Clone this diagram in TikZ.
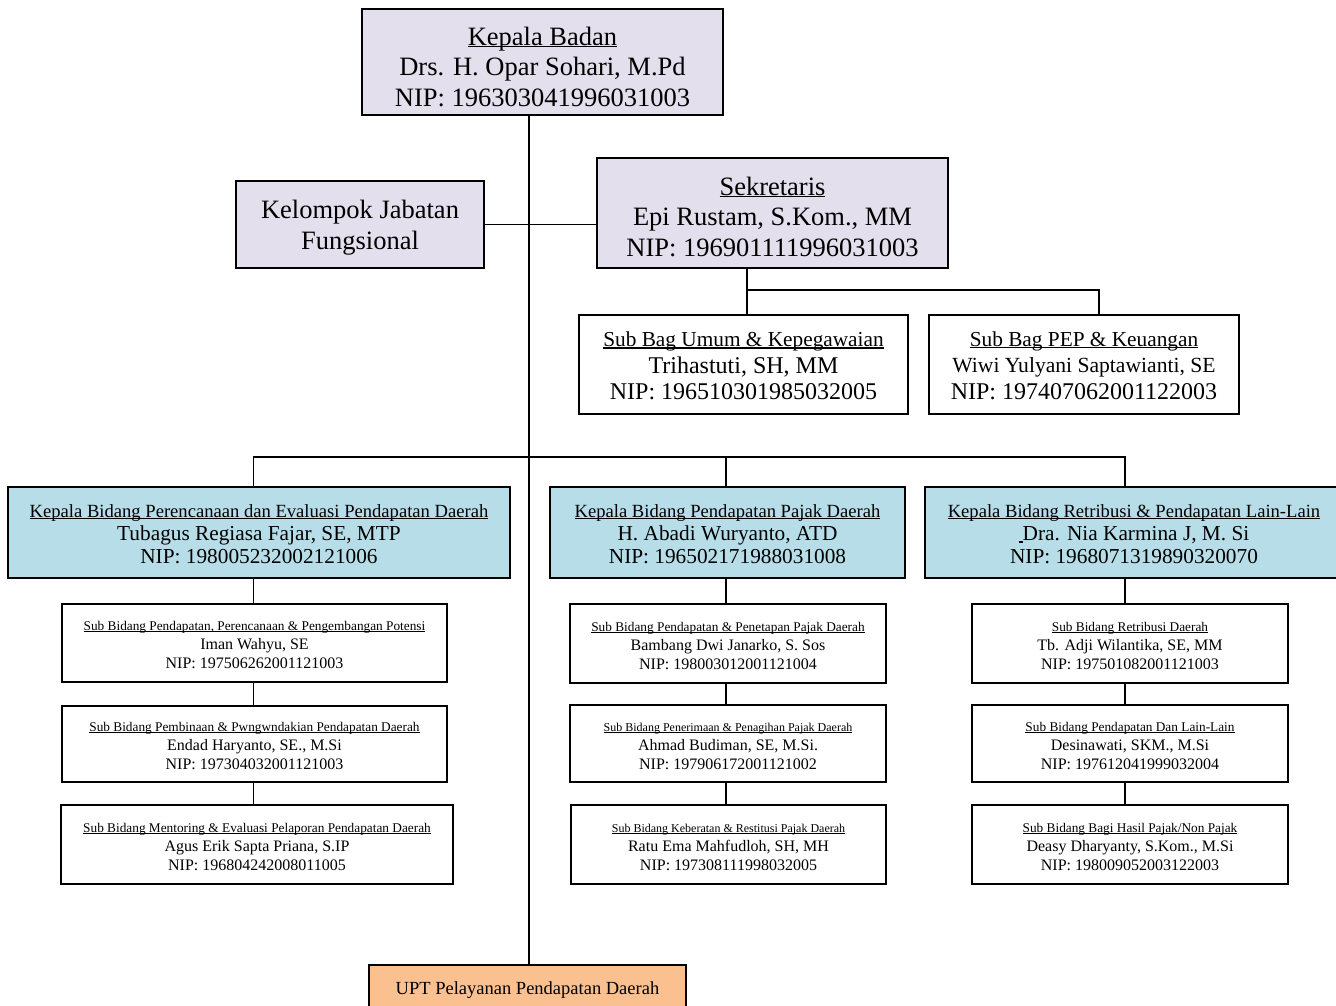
\documentclass[tikz,border=0pt]{standalone}
\usepackage{fontspec}
\setmainfont{Liberation Serif}
\usepackage{xcolor}
\definecolor{lavbox}{HTML}{E4DFEC}
\definecolor{bluebox}{HTML}{B7DEE8}
\definecolor{peachbox}{HTML}{FAC090}
% underline close to the baseline
\newcommand{\undl}[1]{\setbox0\hbox{#1}\rlap{\rule[-0.08em]{\wd0}{0.05em}}\box0}
% extra room above the first line
\newcommand{\toppad}[1]{\rule{0pt}{#1}}

\begin{document}
\begin{tikzpicture}[x=1pt,y=-1pt,
  box/.style={draw,line width=1.8pt,inner sep=0pt,align=center},
  topbox/.style={box,fill=lavbox,font=\fontsize{26.5}{30.5}\selectfont},
  bagbox/.style={box,font=\fontsize{24}{26.5}\selectfont},
  kabid/.style={box,fill=bluebox,font=\fontsize{21.3}{23}\selectfont,minimum height=91pt},
  subbid/.style={box,font=\fontsize{16}{19}\selectfont},
  link/.style={line width=1.8pt}]
  \useasboundingbox (0,0) rectangle (1336,1006);
  \clip (0,0) rectangle (1336,1006);

  % pimpinan dan sekretariat
  \node[topbox,minimum width=361pt,minimum height=106pt] (kaban) at (542.5,62)
    {\toppad{28pt}\undl{Kepala Badan}\\Drs. H. Opar Sohari, M.Pd\\NIP: 196303041996031003};
  \node[topbox,minimum width=248pt,minimum height=87pt] (kjf) at (360,224.5)
    {\toppad{25pt}Kelompok Jabatan\\Fungsional};
  \node[topbox,minimum width=351pt,minimum height=110pt] (sekr) at (772.5,213)
    {\toppad{26pt}\undl{Sekretaris}\\Epi Rustam, S.Kom., MM\\NIP: 196901111996031003};
  \node[bagbox,minimum width=329pt,minimum height=99pt] (sbumum) at (743.5,364.5)
    {{\fontsize{21.3}{26.5}\selectfont\toppad{18pt}\undl{Sub Bag Umum \& Kepegawaian}}\\Trihastuti, SH, MM\\NIP: 196510301985032005};
  \node[bagbox,minimum width=310pt,minimum height=99pt] (sbpep) at (1084,364.5)
    {{\fontsize{21.3}{26.5}\selectfont\toppad{17pt}\undl{Sub Bag PEP \& Keuangan}}\\{\fontsize{21.6}{26.5}\selectfont Wiwi Yulyani Saptawianti, SE}\\NIP: 197407062001122003};

  % kepala bidang
  \node[kabid,minimum width=502pt] (kb1) at (259,532.5)
    {{\fontsize{18.6}{23}\selectfont\toppad{17pt}\undl{Kepala Bidang Perencanaan dan Evaluasi Pendapatan Daerah}}\\Tubagus Regiasa Fajar, SE, MTP\\NIP: 198005232002121006};
  \node[kabid,minimum width=355pt] (kb2) at (727.5,532.5)
    {{\fontsize{18.6}{23}\selectfont\toppad{17pt}\undl{Kepala Bidang Pendapatan Pajak Daerah}}\\H. Abadi Wuryanto, ATD\\NIP: 196502171988031008};
  \node[kabid,minimum width=418pt] (kb3) at (1134,532.5)
    {{\fontsize{18.6}{23}\selectfont\toppad{17pt}\undl{Kepala Bidang Retribusi \& Pendapatan Lain-Lain}}\\\undl{\hspace{4pt}}Dra. Nia Karmina J, M. Si\\NIP: 1968071319890320070};

  % sub bidang
  \node[subbid,minimum width=385pt,minimum height=78pt] (s11) at (254.5,643)
    {{\fontsize{13.3}{19}\selectfont\toppad{14pt}\undl{Sub Bidang Pendapatan, Perencanaan \& Pengembangan Potensi}}\\Iman Wahyu, SE\\NIP: 197506262001121003};
  \node[subbid,minimum width=385pt,minimum height=76pt] (s12) at (254.5,744)
    {{\fontsize{13.3}{19}\selectfont\toppad{14pt}\undl{Sub Bidang Pembinaan \& Pwngwndakian Pendapatan Daerah}}\\Endad Haryanto, SE., M.Si\\NIP: 197304032001121003};
  \node[subbid,minimum width=392pt,minimum height=79pt] (s13) at (257,844.5)
    {{\fontsize{13.3}{19}\selectfont\toppad{14pt}\undl{Sub Bidang Mentoring \& Evaluasi Pelaporan Pendapatan Daerah}}\\Agus Erik Sapta Priana, S.IP\\NIP: 196804242008011005};
  \node[subbid,minimum width=316pt,minimum height=79pt] (s21) at (728,643.5)
    {{\fontsize{13.3}{19}\selectfont\toppad{14pt}\undl{Sub Bidang Pendapatan \& Penetapan Pajak Daerah}}\\Bambang Dwi Janarko, S. Sos\\NIP: 198003012001121004};
  \node[subbid,minimum width=316pt,minimum height=77pt] (s22) at (728,743.5)
    {{\fontsize{12}{19}\selectfont\toppad{14pt}\undl{Sub Bidang Penerimaan \& Penagihan Pajak Daerah}}\\Ahmad Budiman, SE, M.Si.\\NIP: 197906172001121002};
  \node[subbid,minimum width=315pt,minimum height=79pt] (s23) at (728.5,844.5)
    {{\fontsize{12}{19}\selectfont\toppad{14pt}\undl{Sub Bidang Keberatan \& Restitusi Pajak Daerah}}\\Ratu Ema Mahfudloh, SH, MH\\NIP: 197308111998032005};
  \node[subbid,minimum width=316pt,minimum height=79pt] (s31) at (1130,643.5)
    {{\fontsize{13.3}{19}\selectfont\toppad{14pt}\undl{Sub Bidang Retribusi Daerah}}\\Tb. Adji Wilantika, SE, MM\\NIP: 197501082001121003};
  \node[subbid,minimum width=316pt,minimum height=77pt] (s32) at (1130,743.5)
    {{\fontsize{13.3}{19}\selectfont\toppad{14pt}\undl{Sub Bidang Pendapatan Dan Lain-Lain}}\\Desinawati, SKM., M.Si\\NIP: 197612041999032004};
  \node[subbid,minimum width=316pt,minimum height=79pt] (s33) at (1130,844.5)
    {{\fontsize{13.3}{19}\selectfont\toppad{14pt}\undl{Sub Bidang Bagi Hasil Pajak/Non Pajak}}\\Deasy Dharyanty, S.Kom., M.Si\\NIP: 198009052003122003};

  \node[box,fill=peachbox,font=\fontsize{18.5}{22}\selectfont,minimum width=317pt,minimum height=44pt] (upt) at (527.5,987)
    {\toppad{18pt}UPT Pelayanan Pendapatan Daerah};

  % garis
  \coordinate (tk) at (529,0);
  \coordinate (jU) at (747,290);
  \coordinate (jP) at (1099,290);
  \coordinate (c1) at (253.5,457);
  \coordinate (c2) at (726,457);
  \coordinate (c3) at (1125,457);
  \draw[link] (kaban.south -| tk) -- (upt.north -| tk);
  \draw[link] (kjf.east) -- (kjf.east -| sekr.west);
  \draw[link] (sekr.south -| jU) -- (jU) -- (jP) -- (jP |- sbpep.north);
  \draw[link] (jU) -- (jU |- sbumum.north);
  \draw[link] (kb1.north -| c1) -- (c1) -- (c3) -- (kb3.north -| c3);
  \draw[link] (c2) -- (kb2.north -| c2);
  \foreach \c/\k/\a/\b/\d in {c1/kb1/s11/s12/s13,c2/kb2/s21/s22/s23,c3/kb3/s31/s32/s33}{
    \draw[link] (\k.south -| \c) -- (\a.north -| \c);
    \draw[link] (\a.south -| \c) -- (\b.north -| \c);
    \draw[link] (\b.south -| \c) -- (\d.north -| \c);
  }
\end{tikzpicture}
\end{document}
